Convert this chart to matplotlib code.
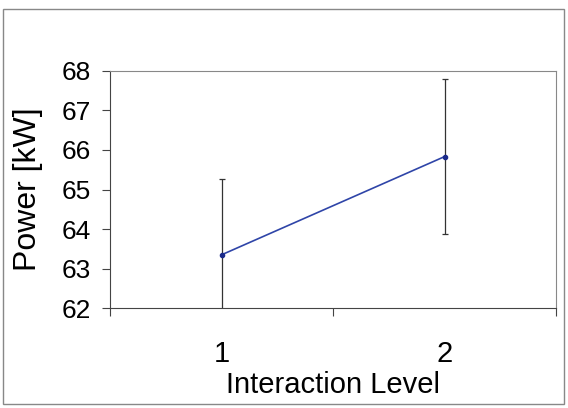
import matplotlib.pyplot as plt
from matplotlib.patches import Rectangle

plt.rcParams['font.family'] = ['Liberation Sans', 'DejaVu Sans']

# data
levels = [1, 2]
power = [63.35, 65.83]
power_err = [1.91, 1.95]
level_labels = ['1', '2']

fig = plt.figure(figsize=(5.68, 4.08), dpi=100)
ax = fig.add_axes([110 / 568, 1 - 308.3 / 408, 446 / 568, 237.6 / 408])

# frame round the whole chart
fig.patches.append(Rectangle((3 / 568, 4 / 408), 561 / 568, 395 / 408,
                             transform=fig.transFigure, fill=False,
                             edgecolor='#888888', linewidth=1))

ax.errorbar(levels, power, yerr=power_err, color='#2f45a8', linewidth=1.2,
            marker='o', markersize=3, markerfacecolor='#1a2a8a',
            markeredgecolor='#1a2a8a', ecolor='#333333', elinewidth=0.9,
            capsize=2.5, capthick=0.9)

ax.set_xlim(0.5, 2.5)
ax.set_ylim(62, 68)
ax.set_yticks(range(62, 69))

# category axis: tick marks between categories, labels on them
ax.set_xticks([0.5, 1.5, 2.5])
ax.set_xticklabels([])
ax.set_xticks(levels, minor=True)
ax.set_xticklabels(level_labels, minor=True)
ax.tick_params(axis='x', which='major', direction='out', length=6, width=0.8, color='#444444')
ax.tick_params(axis='x', which='minor', length=0, pad=23, labelsize=21)
ax.tick_params(axis='y', direction='out', length=6, width=0.8, color='#444444',
               labelsize=19, pad=8)

for side in ['left', 'bottom']:
    ax.spines[side].set_color('#444444')
for side in ['top', 'right']:
    ax.spines[side].set_color('#888888')

ax.set_ylabel('Power [kW]', fontsize=23)
ax.yaxis.set_label_coords(-0.15, 0.5)
ax.set_xlabel('Interaction Level', fontsize=21)
ax.xaxis.set_label_coords(0.5, -0.262)

fig.savefig('out.png', dpi=100)
